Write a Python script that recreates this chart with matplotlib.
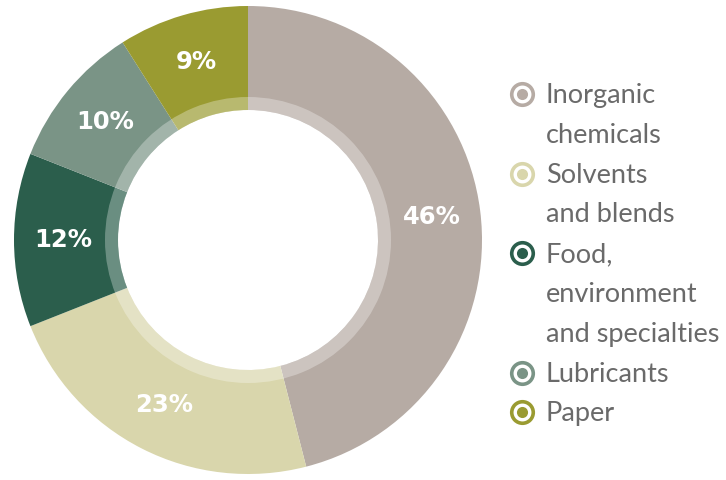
import matplotlib.pyplot as plt
import numpy as np
from matplotlib.patches import Wedge

# data
labels = ["Inorganic\nchemicals", "Solvents\nand blends", "Food,\nenvironment\nand specialties",
          "Lubricants", "Paper"]
shares = [46, 23, 12, 10, 9]
colors = ["#b6aba4", "#d9d6ac", "#2b5e4c", "#7a9486", "#9a9b31"]

fig = plt.figure(figsize=(7.26, 4.8), dpi=100)
ax = fig.add_axes([0, 0, 1, 1])

cx, cy = 248, 240
r_out, r_in = 234, 130

# pie with y axis flipped -> counterclock=True gives clockwise on screen
wedges, _ = ax.pie(shares, colors=colors, startangle=-90, counterclock=True,
                   radius=r_out, center=(cx, cy), wedgeprops=dict(width=r_out - r_in, lw=0),
                   frame=True)
ax.set_xlim(0, 726)
ax.set_ylim(480, 0)
ax.set_aspect("equal")
ax.axis("off")

# lighter inner band
ax.add_patch(Wedge((cx, cy), 143, 0, 360, width=13, fc=(1, 1, 1, 0.3), lw=0))

# percentage labels
for w, s in zip(wedges, shares):
    mid = np.deg2rad((w.theta1 + w.theta2) / 2)
    x = cx + 185 * np.cos(mid)
    y = cy + 185 * np.sin(mid)
    ax.text(x, y, f"{s}%", color="white", fontsize=17.5, fontweight="heavy",
            ha="center", va="center")

# legend
line_h = 39.8
y = 93
for lab, c in zip(labels, colors):
    ax.plot(522, y + 1, "o", ms=15.5, mfc="white", mec=c, mew=2.6)
    ax.plot(522, y + 1, "o", ms=8, mfc=c, mec=c, mew=0)
    for line in lab.split("\n"):
        ax.text(546, y, line, fontsize=19.5, color="#6a6a6a", family="Lato",
                va="center_baseline", ha="left")
        y += line_h

fig.savefig("out.png", dpi=100)
